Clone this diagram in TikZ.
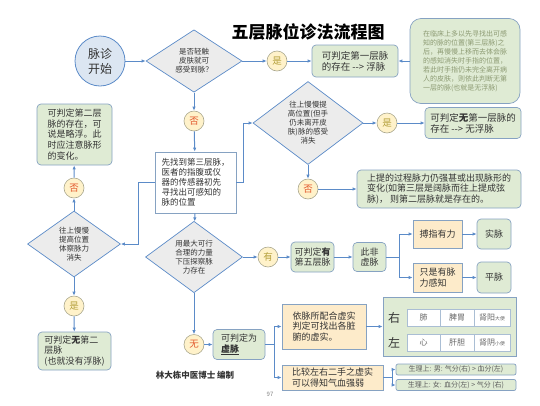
\documentclass[tikz,border=0pt]{standalone}
\usepackage{fontspec}
\setmainfont{Noto Sans CJK SC}
\usetikzlibrary{arrows.meta,shapes.geometric}
\definecolor{flowblue}{HTML}{5B8BC8}
\definecolor{edgeblue}{HTML}{86A2C2}
\definecolor{resultgreen}{HTML}{DFEBD4}
\definecolor{querygrey}{HTML}{ECECEC}
\definecolor{hintyellow}{HTML}{FDEBCA}
\definecolor{tagyellow}{HTML}{FFF2CA}
\definecolor{tagedge}{HTML}{A9A78E}
\definecolor{startblue}{HTML}{DCE6F2}
\definecolor{yesgold}{HTML}{B5A03C}
\definecolor{nored}{HTML}{E2562B}
\definecolor{notegrey}{HTML}{8C9A72}
\definecolor{ink}{HTML}{333333}
\newcommand{\organnote}[1]{{\fontsize{4.8}{5}\selectfont #1}}

\begin{document}
\begin{tikzpicture}[
  x=1pt, y=-1pt,
  font=\fontsize{9}{10.8}\selectfont,
  >={Latex[length=4pt,width=3.4pt]},
  box/.style={draw=edgeblue, line width=0.7pt, text=ink, align=left, inner sep=1pt},
  result/.style={box, fill=resultgreen, rounded corners=4pt},
  hint/.style={box, fill=hintyellow},
  query/.style={diamond, draw=flowblue, line width=0.7pt, fill=querygrey, text=ink,
    align=center, inner sep=0pt, font=\fontsize{7.5}{9}\selectfont},
  answer/.style={circle, draw=tagedge, line width=0.6pt, fill=tagyellow, minimum size=20,
    inner sep=0pt, font=\fontsize{9.5}{10}\selectfont},
  cell/.style={draw=edgeblue!70, fill=white, minimum height=17, inner sep=0pt,
    text=ink!75, font=\fontsize{8}{9}\selectfont},
  arrow/.style={->, line width=1pt, draw=flowblue}
]
\useasboundingbox (0,0) rectangle (540,405);

\node[font=\fontsize{17}{20}\selectfont\bfseries, text=black] (title) at (308,32) {五层脉位诊法流程图};

% first question
\node[circle, draw=flowblue, line width=0.8pt, fill=startblue, minimum size=50, inner sep=0pt,
  align=center, text=ink, font=\fontsize{12}{15}\selectfont] (start) at (100,61) {脉诊\\开始};
\node[query, minimum width=96, minimum height=59] (touch) at (194,61) {是否轻触\\皮肤就可\\感受到脉？};
\node[answer, text=yesgold] (touchyes) at (277,61) {是};
\node[result, minimum width=86, minimum height=32, font=\fontsize{9.5}{11}\selectfont] (first) at (355,61)
  {可判定第一层脉\\的存在 -{}-> 浮脉};
\node[result, rounded corners=11pt, minimum width=110, minimum height=85, text=notegrey,
  font=\fontsize{7}{9}\selectfont] (clinic) at (465,61)
  {在临床上多以先寻找出可感\\知的脉的位置(第三层脉)之\\后，再慢慢上移而去体会脉\\的感知消失时手指的位置，\\若此时手指仍未完全离开病\\人的皮肤，则依此判断无第\\一层的脉(也就是无浮脉)};
\draw[arrow] (start) -- (touch);
\draw[arrow] (touch) -- (touchyes);
\draw[arrow] (touchyes) -- (first);
\draw[arrow] (clinic) -- (first);

\node[answer, text=nored] (touchno) at (194,121) {否};
\node[box, fill=white, minimum width=81, minimum height=61, font=\fontsize{8.5}{10}\selectfont] (third) at (195.5,182.5)
  {先找到第三层脉，\\医者的指腹或仪\\器的传感器初先\\寻找出可感知的\\脉的位置};
\draw[arrow] (touch) -- (touchno);
\draw[arrow] (touchno) -- (third);

% raising, right branch
\node[query, minimum width=110, minimum height=72] (raise) at (308,123)
  {往上慢慢提\\高位置(但手\\仍未离开皮\\肤)脉的感受\\消失};
\node[answer, text=yesgold] (raiseyes) at (387,123) {是};
\node[result, minimum width=96, minimum height=31, font=\fontsize{9.5}{11}\selectfont] (nofirst) at (473,123)
  {可判定\textbf{无}第一层脉的\\存在 -{}-> 无浮脉};
\node[answer, text=nored] (raiseno) at (308,189) {否};
\node[result, minimum width=164, minimum height=38] (second) at (439,189)
  {上提的过程脉力仍强甚或出现脉形的\\变化(如第三层是阔脉而往上提成弦\\脉)， 则第二层脉就是存在的。};
\draw[arrow] (third.east) -- ++(7,0) |- (raise.west);
\draw[arrow] (raise) -- (raiseyes);
\draw[arrow] (raiseyes) -- (nofirst);
\draw[arrow] (raise) -- (raiseno);
\draw[arrow] (raiseno) -- (second);

% raising, left branch
\node[query, minimum width=93, minimum height=66] (lift) at (74,244) {往上慢慢\\提高位置\\体察脉力\\消失};
\node[answer, text=nored] (liftno) at (74,188) {否};
\node[result, minimum width=75, minimum height=61] (slight) at (74.5,134.5)
  {可判定第二层\\脉的存在，可\\说是略浮。此\\时应注意脉形\\的变化。};
\node[answer, text=yesgold] (liftyes) at (74,306) {是};
\node[result, minimum width=73, minimum height=38] (nosecond) at (74.5,351)
  {可判定\textbf{无}第二\\层脉\\(也就没有浮脉)};
\draw[arrow] (third.west) -- ++(-16,0) |- (lift.east);
\draw[arrow] (lift) -- (liftno);
\draw[arrow] (liftno) -- (slight);
\draw[arrow] (lift) -- (liftyes);
\draw[arrow] (liftyes) -- (nosecond);

% pressing
\node[query, minimum width=97, minimum height=67] (press) at (194,257)
  {用最大可行\\合理的力量\\下压探察脉\\力存在};
\node[answer, text=yesgold] (pressyes) at (268,257) {有};
\node[result, minimum width=43, minimum height=30] (fifth) at (312.5,257) {可判定\textbf{有}\\第五层脉};
\node[result, minimum width=33, minimum height=29] (notweak) at (369.5,257) {此非\\虚脉};
\node[hint, minimum width=49, minimum height=28] (strong) at (437.5,234) {搏指有力};
\node[hint, minimum width=49, minimum height=29] (mild) at (437.5,277.5) {只是有脉\\力感知};
\node[result, minimum width=34, minimum height=30] (solid) at (494,234) {实脉};
\node[result, minimum width=34, minimum height=31] (plain) at (494,277.5) {平脉};
\draw[arrow] (third) -- (press);
\draw[arrow] (press) -- (pressyes);
\draw[arrow] (pressyes) -- (fifth);
\draw[arrow] (fifth) -- (notweak);
\draw[arrow] (notweak.east) -- ++(13,0) |- (strong.west);
\draw[arrow] (notweak.east) -- ++(13,0) |- (mild.west);
\draw[arrow] (strong) -- (solid);
\draw[arrow] (mild) -- (plain);

\node[answer, text=nored] (pressno) at (194,344.5) {无};
\node[result, minimum width=52, minimum height=30] (weak) at (239,344.5) {可判定为\\\underline{\textbf{虚脉}}};
\node[hint, minimum width=84, minimum height=45] (organ) at (324,326.5)
  {依脉所配合虚实\\判定可找出各脏\\腑的虚实。};
\node[hint, minimum width=101, minimum height=25] (compare) at (332.5,377.5)
  {比较左右二手之虚实\\可以得知气血强弱};
\draw[arrow] (press) -- (pressno);
\draw[arrow] (pressno) -- (weak);
\draw[arrow] (weak.east) -- ++(9,0) |- (organ.west);
\draw[arrow] (weak.east) -- ++(9,0) |- (compare.west);

% organ table
\node[box, fill=resultgreen, minimum width=133, minimum height=59] (organtable) at (449.5,326.5) {};
\node[font=\fontsize{12}{14}\selectfont, text=ink] (rightside) at (394,317.5) {右};
\node[font=\fontsize{12}{14}\selectfont, text=ink] (leftside) at (394,342.5) {左};
\foreach \cx/\cw/\toprow/\botrow [count=\i] in
  {423.5/33/肺/心, 457/34/脾胃/肝胆, 492/36/肾阳\organnote{大便}/肾阴\organnote{小便}}{
  \node[cell, minimum width=\cw] (rightcell\i) at (\cx,317.5) {\toprow};
  \node[cell, minimum width=\cw] (leftcell\i) at (\cx,342.5) {\botrow};
}
\draw[arrow] (organ) -- (organtable);

\node[result, rounded corners=2pt, minimum width=120, minimum height=11, text=ink!80,
  font=\fontsize{7}{8}\selectfont] (male) at (456,369.5) {生理上: 男: 气分(右) > 血分(左)};
\node[result, rounded corners=2pt, minimum width=120, minimum height=11, text=ink!80,
  font=\fontsize{7}{8}\selectfont] (female) at (456,385) {生理上: 女: 血分(左) > 气分 (右)};
\draw[arrow] (compare.east) -- ++(9,0) |- (male.west);
\draw[arrow] (compare.east) -- ++(9,0) |- (female.west);

\node[font=\fontsize{8.5}{10}\selectfont\bfseries, text=ink] (author) at (195,375) {林大栋中医博士 编制};
\node[font=\fontsize{6}{7}\selectfont, text=gray] (page) at (270,394) {97};
\end{tikzpicture}
\end{document}
